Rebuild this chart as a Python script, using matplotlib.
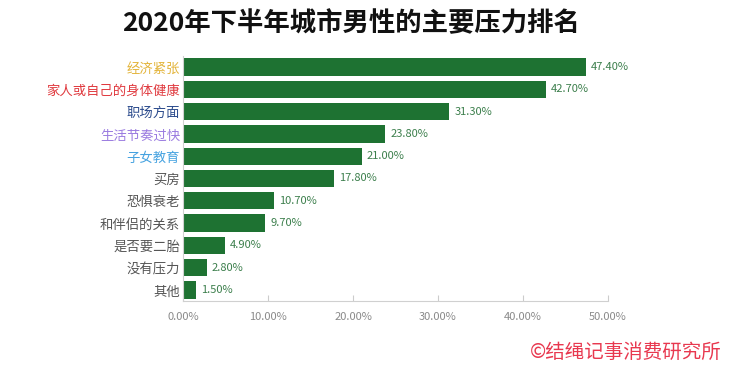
import matplotlib
matplotlib.use("Agg")
import matplotlib.pyplot as plt

plt.rcParams['font.family'] = ['Noto Sans CJK SC', 'DejaVu Sans']

categories = ["经济紧张", "家人或自己的身体健康", "职场方面", "生活节奏过快", "子女教育",
              "买房", "恐惧衰老", "和伴侣的关系", "是否要二胎", "没有压力", "其他"]
values = [47.4, 42.7, 31.3, 23.8, 21.0, 17.8, 10.7, 9.7, 4.9, 2.8, 1.5]
label_colors = ["#E3B43A", "#E0393E", "#2A4A8C", "#9A7BE0", "#45A2E0",
                "#555555", "#555555", "#555555", "#555555", "#555555", "#555555"]
xticks = [0, 10, 20, 30, 40, 50]
xtick_labels = ["0.00%", "10.00%", "20.00%", "30.00%", "40.00%", "50.00%"]

fig = plt.figure(figsize=(7.3, 3.68), dpi=100)
ax = fig.add_axes([0.2507, 0.182, 0.5822, 0.666])

y = list(range(len(categories)))
ax.barh(y, values, height=0.78, color="#1E7232")
ax.set_ylim(len(categories) - 0.5, -0.5)
ax.set_xlim(0, 50)

for yi, v in zip(y, values):
    ax.text(v + 0.6, yi, f"{v:.2f}%", va="center", ha="left", fontsize=8, color="#3C7F4C")

ax.set_yticks(y)
ax.set_yticklabels(categories, fontsize=9.6)
for lbl, c in zip(ax.get_yticklabels(), label_colors):
    lbl.set_color(c)
ax.tick_params(axis="y", length=0, pad=2)

ax.set_xticks(xticks)
ax.set_xticklabels(xtick_labels, fontsize=8, color="#8A8A8A")
ax.tick_params(axis="x", direction="in", length=4, color="#CCCCCC", pad=8)

for s in ["top", "right"]:
    ax.spines[s].set_visible(False)
ax.spines["left"].set_color("#D0D0D0")
ax.spines["bottom"].set_color("#D0D0D0")

fig.text(351 / 730, 1 - 24 / 368, "2020年下半年城市男性的主要压力排名", ha="center", va="center",
         fontsize=19, color="#111111", fontweight="bold")
fig.text(722 / 730, 1 - 352 / 368, "©结绳记事消费研究所", ha="right", va="center",
         fontsize=14, color="#E8384F", fontweight="medium")

fig.savefig("out.png", dpi=100)
